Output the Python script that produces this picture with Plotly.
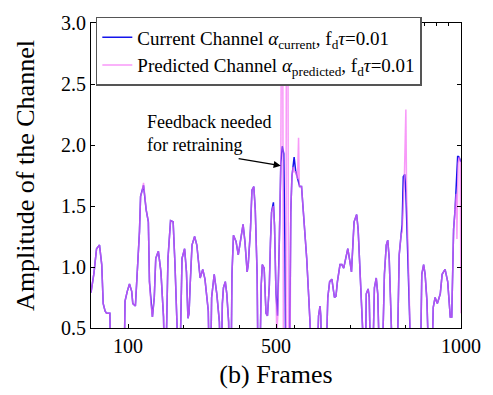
import plotly.graph_objects as go

# ---- data ----
frames_cur = [0, 8, 15, 23, 29, 33, 38, 42, 51, 53, 90, 92, 98, 104, 110, 113, 120, 125, 131, 134,
              138, 142, 149, 155, 158, 162, 166, 171, 175, 182, 189, 196, 198, 203, 205, 208, 215, 222,
              227, 233, 235, 241, 243, 246, 253, 258, 262, 265, 268, 273, 280, 286, 295, 302, 308, 317,
              319, 324, 326, 333, 340, 347, 349, 353, 355, 358, 363, 367, 372, 373, 379, 381, 385, 392,
              398, 403, 411, 416, 422, 425, 431, 435, 440, 444, 449, 451, 457, 460, 463, 468, 473, 477,
              482, 485, 488, 493, 496, 500, 504, 509, 513, 517, 521, 524, 526, 537, 540, 543, 549, 553,
              561, 564, 569, 576, 583, 589, 594, 596, 612, 615, 619, 621, 623, 636, 640, 645, 651, 655,
              658, 662, 666, 673, 678, 683, 690, 694, 700, 704, 711, 718, 722, 728, 734, 737, 742, 744,
              749, 752, 755, 762, 766, 771, 775, 779, 788, 793, 798, 802, 806, 811, 814, 828, 833, 838,
              841, 844, 848, 851, 855, 860, 864, 891, 894, 899, 903, 908, 912, 922, 925, 930, 936, 940,
              944, 949, 957, 964, 971, 975, 980, 984, 991, 995, 1000]
amp_cur = [0.79, 0.95, 1.15, 1.18, 1.02, 0.70, 0.64, 0.62, 0.62, 0.30, 0.30, 0.72, 0.80, 0.86, 0.80, 0.70,
           0.68, 0.96, 1.29, 1.58, 1.62, 1.67, 1.47, 1.37, 0.88, 0.70, 0.59, 0.75, 1.07, 1.13, 0.96, 0.59,
           0.30, 0.30, 0.75, 1.07, 1.38, 1.37, 1.02, 0.60, 0.30, 0.30, 0.70, 1.07, 1.15, 0.96, 0.58, 0.62,
           0.85, 1.18, 1.25, 1.18, 0.91, 0.98, 0.90, 0.64, 0.30, 0.30, 0.75, 0.94, 0.78, 0.55, 0.30, 0.30,
           0.70, 0.83, 0.88, 0.78, 0.55, 0.30, 0.30, 0.94, 1.26, 1.21, 1.10, 1.21, 1.35, 1.21, 0.96, 1.02,
           1.31, 1.63, 1.66, 1.47, 0.94, 0.30, 0.30, 0.85, 1.02, 0.99, 0.62, 0.60, 0.85, 1.20, 1.45, 1.53,
           1.34, 0.78, 0.60, 1.21, 1.85, 1.99, 1.93, 1.20, 0.30, 0.30, 1.45, 1.74, 1.90, 1.79, 1.71, 1.66,
           1.66, 1.37, 1.07, 0.72, 0.50, 0.30, 0.30, 0.60, 0.68, 0.60, 0.30, 0.30, 0.75, 0.88, 0.90, 0.80,
           0.75, 0.76, 0.88, 1.02, 1.02, 0.99, 1.10, 1.15, 1.04, 0.96, 1.37, 1.43, 1.31, 0.94, 0.55, 0.30,
           0.30, 0.78, 0.82, 0.75, 0.30, 0.30, 0.83, 0.91, 0.78, 0.30, 0.30, 0.94, 1.18, 1.22, 1.07, 0.67,
           0.30, 0.30, 1.10, 1.26, 1.35, 1.74, 1.76, 1.61, 1.21, 0.78, 0.30, 0.30, 0.94, 1.02, 0.94, 0.72,
           0.30, 0.30, 0.67, 0.75, 0.70, 0.74, 0.78, 0.94, 0.98, 0.88, 0.59, 0.59, 1.31, 1.47, 1.91, 1.90,
           1.86]

frames_pred = [0, 8, 15, 23, 29, 33, 38, 42, 51, 53, 90, 92, 98, 104, 110, 113, 120, 125, 131, 134,
               138, 142, 149, 155, 158, 162, 166, 171, 175, 182, 189, 196, 198, 203, 205, 208, 215, 222,
               227, 233, 235, 241, 243, 246, 253, 258, 262, 265, 268, 273, 280, 286, 295, 302, 308, 317,
               319, 324, 326, 333, 340, 347, 349, 353, 355, 358, 363, 367, 372, 373, 379, 381, 385, 392,
               398, 403, 411, 416, 422, 425, 431, 435, 440, 444, 449, 451, 457, 460, 463, 468, 473, 477,
               482, 485, 488, 493, 496, 500, 502, 505, 509, 513, 515, 518, 520, 527, 528, 532, 534, 538,
               540, 543, 546, 549, 553, 558, 561, 563, 569, 576, 583, 589, 594, 596, 612, 615, 619, 621,
               623, 636, 640, 645, 651, 655, 658, 662, 666, 673, 678, 683, 690, 694, 700, 704, 711, 718,
               722, 728, 734, 737, 742, 744, 749, 752, 755, 762, 766, 771, 775, 779, 788, 793, 798, 802,
               806, 811, 814, 828, 833, 838, 841, 847, 851, 853, 855, 860, 864, 891, 894, 899, 903, 908,
               912, 922, 925, 930, 936, 940, 944, 949, 957, 964, 971, 975, 980, 984, 987, 989, 992, 995,
               998, 999.5, 1000]
amp_pred = [0.79, 0.95, 1.15, 1.18, 1.02, 0.70, 0.64, 0.62, 0.62, 0.30, 0.30, 0.72, 0.80, 0.86, 0.80, 0.70,
            0.68, 0.96, 1.29, 1.58, 1.62, 1.69, 1.47, 1.37, 0.88, 0.70, 0.59, 0.75, 1.07, 1.13, 0.96, 0.59,
            0.30, 0.30, 0.75, 1.07, 1.38, 1.37, 1.02, 0.60, 0.30, 0.30, 0.70, 1.07, 1.15, 0.96, 0.58, 0.62,
            0.85, 1.18, 1.25, 1.18, 0.91, 0.98, 0.90, 0.64, 0.30, 0.30, 0.75, 0.94, 0.78, 0.55, 0.30, 0.30,
            0.70, 0.83, 0.88, 0.78, 0.55, 0.30, 0.30, 0.94, 1.26, 1.21, 1.10, 1.21, 1.35, 1.21, 0.96, 1.02,
            1.31, 1.63, 1.66, 1.47, 0.94, 0.30, 0.30, 0.85, 1.02, 0.99, 0.62, 0.60, 0.85, 1.20, 1.45, 1.50,
            1.34, 0.78, 0.45, 0.60, 1.21, 1.85, 3.30, 3.30, 0.30, 0.30, 3.30, 3.30, 0.30, 0.30,
            1.45, 1.74, 1.82, 1.78, 1.78, 1.72, 2.06, 1.66, 1.66, 1.37, 1.07, 0.72, 0.50, 0.30, 0.30, 0.60,
            0.68, 0.60, 0.30, 0.30, 0.75, 0.88, 0.90, 0.80, 0.75, 0.76, 0.88, 1.02, 1.02, 0.99, 1.10, 1.15,
            1.04, 0.96, 1.37, 1.43, 1.31, 0.94, 0.55, 0.30, 0.30, 0.78, 0.82, 0.75, 0.30, 0.30, 0.83, 0.91,
            0.78, 0.30, 0.30, 0.94, 1.18, 1.22, 1.07, 0.67, 0.30, 0.30, 1.10, 1.26, 1.29, 1.74, 2.29, 1.60,
            1.35, 0.78, 0.30, 0.30, 0.94, 1.02, 0.94, 0.72, 0.30, 0.30, 0.67, 0.75, 0.70, 0.74, 0.78, 0.94,
            0.98, 0.88, 0.59, 0.59, 1.31, 1.47, 1.60, 1.23, 1.85, 1.90, 1.86, 0.95, 0.62]

y_ticks = [0.5, 1.0, 1.5, 2.0, 2.5, 3.0]
x_ticks = [100, 500, 1000]

SERIF = "Liberation Serif, Times New Roman, serif"

fig = go.Figure()
fig.add_trace(go.Scatter(
    x=frames_cur, y=amp_cur, mode="lines",
    line=dict(color="rgb(20,20,235)", width=1.5),
    name="Current Channel <i>α</i><sub>current</sub>, f<sub>d</sub><i>τ</i>=0.01"))
fig.add_trace(go.Scatter(
    x=frames_pred, y=amp_pred, mode="lines",
    line=dict(color="rgba(245,110,245,0.7)", width=1.5),
    name="Predicted Channel <i>α</i><sub>predicted</sub>, f<sub>d</sub><i>τ</i>=0.01"))

# top axis only carries fine ticks
fig.add_trace(go.Scatter(x=[0, 1000], y=[None, None], xaxis="x2", showlegend=False,
                         hoverinfo="skip"))

fig.add_annotation(x=513, y=1.83, ax=395, ay=1.89, xref="x", yref="y", axref="x", ayref="y",
                   text="", showarrow=True, arrowhead=2, arrowsize=1.2, arrowwidth=1.2,
                   arrowcolor="black")
fig.add_annotation(x=145, y=2.29, xref="x", yref="y", xanchor="left", yanchor="top",
                   text="Feedback needed<br>for retraining", showarrow=False, align="left",
                   font=dict(family=SERIF, size=18, color="black"))

fig.update_layout(
    width=493, height=395,
    margin=dict(l=91, r=27, t=16, b=67),
    plot_bgcolor="white", paper_bgcolor="white",
    font=dict(family=SERIF, color="black"),
    showlegend=True,
    legend=dict(x=0.013, y=1.02, xanchor="left", yanchor="top",
                bgcolor="white", bordercolor="#555", borderwidth=1.5,
                font=dict(family=SERIF, size=19, color="black"),
                tracegroupgap=0, itemwidth=30),
    xaxis=dict(range=[0, 1000], tickvals=x_ticks, ticktext=[str(v) for v in x_ticks],
               showline=True, linecolor="black", linewidth=1.2, mirror=False,
               ticks="inside", ticklen=4, tickcolor="black", showgrid=False, zeroline=False,
               tickfont=dict(family=SERIF, size=20, color="black"),
               minor=dict(tick0=100, dtick=150, ticks="inside", ticklen=3, tickcolor="black"),
               title=dict(text="(b) Frames", font=dict(family=SERIF, size=26, color="black"),
                          standoff=8)),
    xaxis2=dict(range=[0, 1000], overlaying="x", side="top", showline=True, linecolor="black",
                linewidth=1.2, ticks="inside", ticklen=3, tickcolor="black",
                dtick=1000 / 30, tick0=0, showticklabels=False, showgrid=False, zeroline=False),
    yaxis=dict(range=[0.5, 3.0], tickvals=y_ticks, ticktext=[f"{v:.1f}" for v in y_ticks],
               showline=True, linecolor="black", linewidth=1.2, mirror="ticks",
               ticks="inside", ticklen=4, tickcolor="black", showgrid=False, zeroline=False,
               tickfont=dict(family=SERIF, size=20, color="black"),
               title=dict(text="Amplitude of the Channel",
                          font=dict(family=SERIF, size=26, color="black"), standoff=18)),
)

fig.write_html("out.html")
